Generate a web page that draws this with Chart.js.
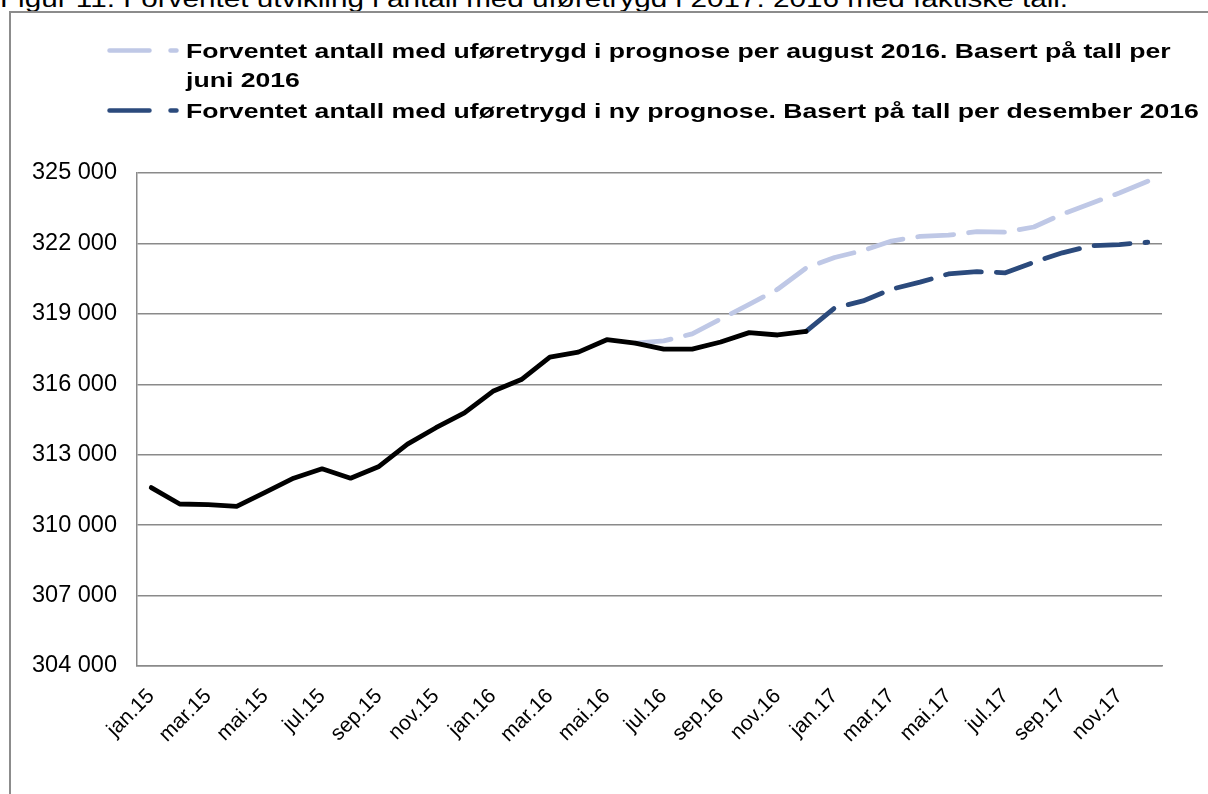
<!DOCTYPE html>
<html lang="no">
<head>
<meta charset="UTF-8">
<title>Figur 11. Forventet utvikling i antall med uføretrygd</title>
<script src="https://cdn.jsdelivr.net/npm/chart.js@4"></script>
<style>
    body { margin: 0; width: 1208px; height: 794px; overflow: hidden; background: #fff; position: relative;
           font-family: Arial, "Liberation Sans", sans-serif; }
    #title { position: absolute; left: 0; top: -12px; font-size: 23px; line-height: 23px; white-space: nowrap; color: #000;
             transform: scaleX(1.29); transform-origin: 0 0; }
    #frame { position: absolute; left: 9px; top: 11px; width: 1300px; height: 900px; border: 2px solid #8c8c8c; }
    #chart { position: absolute; left: 0; top: 0; }
    .legend-row { position: absolute; left: 0; width: 1208px; font-weight: bold; font-size: 21px; line-height: 29px; color: #000; }
    .legend-row svg { position: absolute; left: 100px; top: 0; }
    .legend-row div { position: absolute; left: 186px; width: 800px; transform: scaleX(1.267); transform-origin: 0 0; }
</style>
</head>
<body>
<div id="title">Figur 11. Forventet utvikling i antall med uføretrygd i 2017. 2016 med faktiske tall.</div>
<div id="frame"></div>
<canvas id="chart" width="1208" height="794"></canvas>
<div id="legend"></div>

<script>
    // jan.15 - des.17
    const months = [
        'jan.15', 'feb.15', 'mar.15', 'apr.15', 'mai.15', 'jun.15', 'jul.15', 'aug.15', 'sep.15', 'okt.15', 'nov.15', 'des.15',
        'jan.16', 'feb.16', 'mar.16', 'apr.16', 'mai.16', 'jun.16', 'jul.16', 'aug.16', 'sep.16', 'okt.16', 'nov.16', 'des.16',
        'jan.17', 'feb.17', 'mar.17', 'apr.17', 'mai.17', 'jun.17', 'jul.17', 'aug.17', 'sep.17', 'okt.17', 'nov.17', 'des.17'
    ];

    // faktiske tall, jan.15 - des.16
    const actual = [
        311600, 310900, 310870, 310800, 311400, 312000, 312400, 312000, 312500, 313450, 314150, 314780,
        315700, 316200, 317160, 317370, 317900, 317750, 317500, 317500, 317800, 318200, 318100, 318250
    ];

    // prognose per august 2016, fra jun.16
    const forecastAug = [
        317750, 317850, 318150, 318780, 319400, 320050, 320950,
        321400, 321700, 322100, 322300, 322350, 322500, 322480, 322700, 323250, 323700, 324150, 324650
    ];

    // ny prognose, fra des.16
    const forecastDec = [
        318250,
        319250, 319550, 320050, 320350, 320700, 320800, 320750, 321200, 321600, 321900, 321950, 322050
    ];

    const legendNames = [
        'Forventet antall med uføretrygd i prognose per august 2016. Basert på tall per juni 2016',
        'Forventet antall med uføretrygd i ny prognose. Basert på tall per desember 2016'
    ];

    const lightBlue = '#bfc8e6';
    const darkBlue = '#2b4a7c';
    const gridColor = '#8a8a8a';

    function padFront(values, total) {
        let out = [];
        for (let i = 0; i < total - values.length; i++) out.push(null);
        return out.concat(values);
    }
    function fmt(v) {
        return String(v).replace(/\B(?=(\d{3})+(?!\d))/g, ' ');
    }

    // legend (html, so the first entry can wrap)
    const legendTops = [36, 96];
    const legendColors = [lightBlue, darkBlue];
    let legendHtml = '';
    for (let i = 0; i < legendNames.length; i++) {
        legendHtml += '<div class="legend-row" style="top:' + legendTops[i] + 'px">' +
            '<svg width="90" height="29"><line x1="9.5" y1="14.5" x2="76.5" y2="14.5" stroke="' + legendColors[i] +
            '" stroke-width="4.5" stroke-linecap="round" stroke-dasharray="40 21"/></svg>' +
            '<div>' + legendNames[i] + '</div></div>';
    }
    document.getElementById('legend').innerHTML = legendHtml;

    const ctx = document.getElementById('chart').getContext('2d');
    const chart = new Chart(ctx, {
        type: 'line',
        data: {
            labels: months,
            datasets: [{
                label: 'Faktiske tall',
                data: actual,
                borderColor: '#000000',
                borderWidth: 4.8,
                borderCapStyle: 'round',
                borderJoinStyle: 'round',
                pointRadius: 0,
                tension: 0,
                order: 0
            }, {
                label: legendNames[0],
                data: padFront(forecastAug, months.length),
                borderColor: lightBlue,
                borderWidth: 4.8,
                borderDash: [36, 15],
                borderCapStyle: 'round',
                borderJoinStyle: 'round',
                pointRadius: 0,
                tension: 0,
                order: 2
            }, {
                label: legendNames[1],
                data: padFront(forecastDec, months.length),
                borderColor: darkBlue,
                borderWidth: 4.8,
                borderDash: [36, 15],
                borderCapStyle: 'round',
                borderJoinStyle: 'round',
                pointRadius: 0,
                tension: 0,
                order: 1
            }]
        },
        options: {
            responsive: false,
            animation: false,
            layout: { padding: { left: 0, right: 46, top: 173, bottom: 28 } },
            plugins: {
                legend: { display: false },
                tooltip: { enabled: false }
            },
            scales: {
                x: {
                    offset: true,
                    grid: { display: false, drawTicks: false },
                    border: { display: true, color: gridColor, width: 1.5 },
                    ticks: {
                        autoSkip: false,
                        maxRotation: 45,
                        minRotation: 45,
                        padding: 18,
                        color: '#000',
                        font: { family: 'Arial, "Liberation Sans"', size: 21 },
                        callback: function (value, index) {
                            return index % 2 === 0 ? this.getLabelForValue(value) : '';
                        }
                    },
                    afterFit: function (scale) { scale.height = 100; }
                },
                y: {
                    min: 304000,
                    max: 325000,
                    grid: { color: gridColor, lineWidth: 1.5, drawTicks: false },
                    border: { display: true, color: gridColor, width: 1.5 },
                    ticks: {
                        stepSize: 3000,
                        padding: 20,
                        color: '#000',
                        font: { family: 'Arial, "Liberation Sans"', size: 23.5 },
                        callback: function (value) { return fmt(value); }
                    },
                    afterFit: function (scale) { scale.width = 137; }
                }
            }
        }
    });
</script>
</body>
</html>
